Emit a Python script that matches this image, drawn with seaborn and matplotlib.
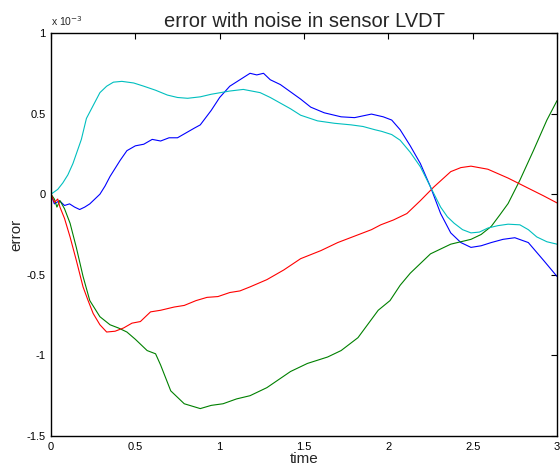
import numpy as np
import pandas as pd
import seaborn as sns
import matplotlib
matplotlib.use("Agg")
import matplotlib.pyplot as plt
from matplotlib.ticker import FuncFormatter

# ---- data (error values in units of 1e-3) ----
t_blue = [0, 0.02, 0.05, 0.08, 0.11, 0.14, 0.17, 0.20, 0.23, 0.26, 0.29, 0.32, 0.35, 0.38, 0.41, 0.45, 0.5, 0.55, 0.6, 0.65,
          0.7, 0.75, 0.8, 0.85, 0.885, 0.95, 1.0, 1.06, 1.12, 1.18, 1.22, 1.26, 1.30, 1.36, 1.42, 1.48, 1.54, 1.62, 1.72, 1.80,
          1.90, 1.97, 2.02, 2.07, 2.13, 2.19, 2.25, 2.31, 2.37, 2.43, 2.49, 2.55, 2.61, 2.68, 2.75, 2.83, 2.92, 3.0]
v_blue = [0, -0.06, -0.04, -0.07, -0.06, -0.08, -0.095, -0.08, -0.06, -0.03, 0.0, 0.05, 0.11, 0.16, 0.21, 0.27, 0.30, 0.31, 0.34, 0.33,
          0.35, 0.35, 0.38, 0.41, 0.43, 0.52, 0.60, 0.67, 0.71, 0.75, 0.74, 0.75, 0.71, 0.68, 0.635, 0.59, 0.54, 0.505, 0.48, 0.475,
          0.497, 0.48, 0.46, 0.40, 0.30, 0.19, 0.045, -0.12, -0.24, -0.30, -0.33, -0.32, -0.30, -0.28, -0.27, -0.30, -0.41, -0.51]

t_cyan = [0, 0.04, 0.07, 0.10, 0.13, 0.15, 0.18, 0.21, 0.25, 0.29, 0.33, 0.37, 0.42, 0.49, 0.55, 0.62, 0.69, 0.75, 0.81, 0.885,
          0.95, 1.06, 1.14, 1.24, 1.30, 1.36, 1.42, 1.48, 1.58, 1.68, 1.78, 1.85, 1.92, 1.96, 2.02, 2.07, 2.13, 2.19, 2.25, 2.31,
          2.35, 2.39, 2.44, 2.49, 2.54, 2.59, 2.65, 2.71, 2.78, 2.83, 2.88, 2.94, 3.0]
v_cyan = [0, 0.03, 0.07, 0.12, 0.19, 0.25, 0.34, 0.47, 0.55, 0.63, 0.67, 0.695, 0.70, 0.69, 0.67, 0.645, 0.615, 0.60, 0.595, 0.604,
          0.62, 0.64, 0.65, 0.63, 0.60, 0.565, 0.53, 0.49, 0.455, 0.44, 0.43, 0.42, 0.40, 0.39, 0.37, 0.335, 0.26, 0.17, 0.045, -0.08,
          -0.14, -0.18, -0.22, -0.24, -0.235, -0.21, -0.195, -0.186, -0.19, -0.22, -0.265, -0.295, -0.31]

t_red = [0, 0.02, 0.04, 0.053, 0.08, 0.113, 0.15, 0.19, 0.22, 0.25, 0.29, 0.33, 0.38, 0.43, 0.48, 0.53, 0.59, 0.65, 0.73, 0.79,
         0.86, 0.925, 0.99, 1.06, 1.12, 1.18, 1.28, 1.38, 1.48, 1.60, 1.70, 1.80, 1.90, 1.955, 2.03, 2.11, 2.19, 2.27, 2.37, 2.43,
         2.49, 2.59, 2.71, 2.83, 2.92, 3.0]
v_red = [0, -0.05, -0.03, -0.08, -0.15, -0.265, -0.41, -0.575, -0.66, -0.74, -0.81, -0.855, -0.85, -0.83, -0.80, -0.79, -0.73, -0.72, -0.70, -0.69,
         -0.66, -0.64, -0.635, -0.61, -0.60, -0.575, -0.53, -0.47, -0.40, -0.35, -0.30, -0.26, -0.22, -0.19, -0.16, -0.12, -0.04, 0.045, 0.14, 0.165,
         0.174, 0.155, 0.10, 0.037, -0.01, -0.054]

t_green = [0, 0.02, 0.035, 0.053, 0.08, 0.113, 0.15, 0.19, 0.23, 0.29, 0.35, 0.40, 0.45, 0.50, 0.57, 0.62, 0.65, 0.71, 0.79, 0.885,
           0.95, 1.02, 1.10, 1.18, 1.28, 1.42, 1.52, 1.64, 1.72, 1.82, 1.94, 2.01, 2.07, 2.13, 2.25, 2.37, 2.49, 2.55, 2.61, 2.66,
           2.71, 2.78, 2.86, 2.94, 3.0]
v_green = [0, -0.03, -0.08, -0.04, -0.09, -0.18, -0.33, -0.51, -0.66, -0.76, -0.81, -0.83, -0.855, -0.90, -0.97, -0.99, -1.06, -1.22, -1.30, -1.33,
           -1.31, -1.30, -1.27, -1.25, -1.20, -1.10, -1.05, -1.01, -0.97, -0.89, -0.72, -0.66, -0.565, -0.49, -0.37, -0.31, -0.28, -0.25, -0.20, -0.13,
           -0.058, 0.087, 0.27, 0.46, 0.58]

x_ticks = [0, 0.5, 1, 1.5, 2, 2.5, 3]
y_ticks = [1, 0.5, 0, -0.5, -1, -1.5]
SCALE = 1e-3

title = "error with noise in sensor LVDT"
xlabel = "time"
ylabel = "error"

sns.set_style("white")
plt.rcParams['font.family'] = ['Liberation Sans', 'DejaVu Sans']

fig = plt.figure(figsize=(5.6, 4.75), dpi=100)
ax = fig.add_axes([51 / 560, 1 - 436 / 475, (557 - 51) / 560, (436 - 33) / 475])

series = [
    (t_blue, v_blue, "#0000ff"),
    (t_green, v_green, "#008000"),
    (t_red, v_red, "#ff0000"),
    (t_cyan, v_cyan, "#00bfbf"),
]
for t, v, c in series:
    sns.lineplot(x=np.array(t), y=np.array(v) * SCALE, color=c, linewidth=0.8, ax=ax,
                 estimator=None, sort=False)

ax.set_xlim(0, 3)
ax.set_ylim(-1.5 * SCALE, 1 * SCALE)
ax.set_xticks(x_ticks)
ax.set_yticks([y * SCALE for y in y_ticks])
ax.xaxis.set_major_formatter(FuncFormatter(lambda x, p: f"{x:g}"))
ax.yaxis.set_major_formatter(FuncFormatter(lambda y, p: f"{y / SCALE:g}"))

ax.tick_params(direction="in", length=4, width=0.8, top=True, right=True,
               labelsize=8, colors="black", pad=4)
for s in ax.spines.values():
    s.set_visible(True)
    s.set_color("black")
    s.set_linewidth(1.0)

ax.set_title(title, fontsize=14.5, pad=4)
ax.set_xlabel(xlabel, fontsize=11, labelpad=0)
ax.set_ylabel(ylabel, fontsize=11, labelpad=2)
ax.text(0.0, 1.012, "x 10$^{-3}$", transform=ax.transAxes, fontsize=7.5, ha="left", va="bottom")

fig.savefig("out.png", dpi=100, facecolor="white")
